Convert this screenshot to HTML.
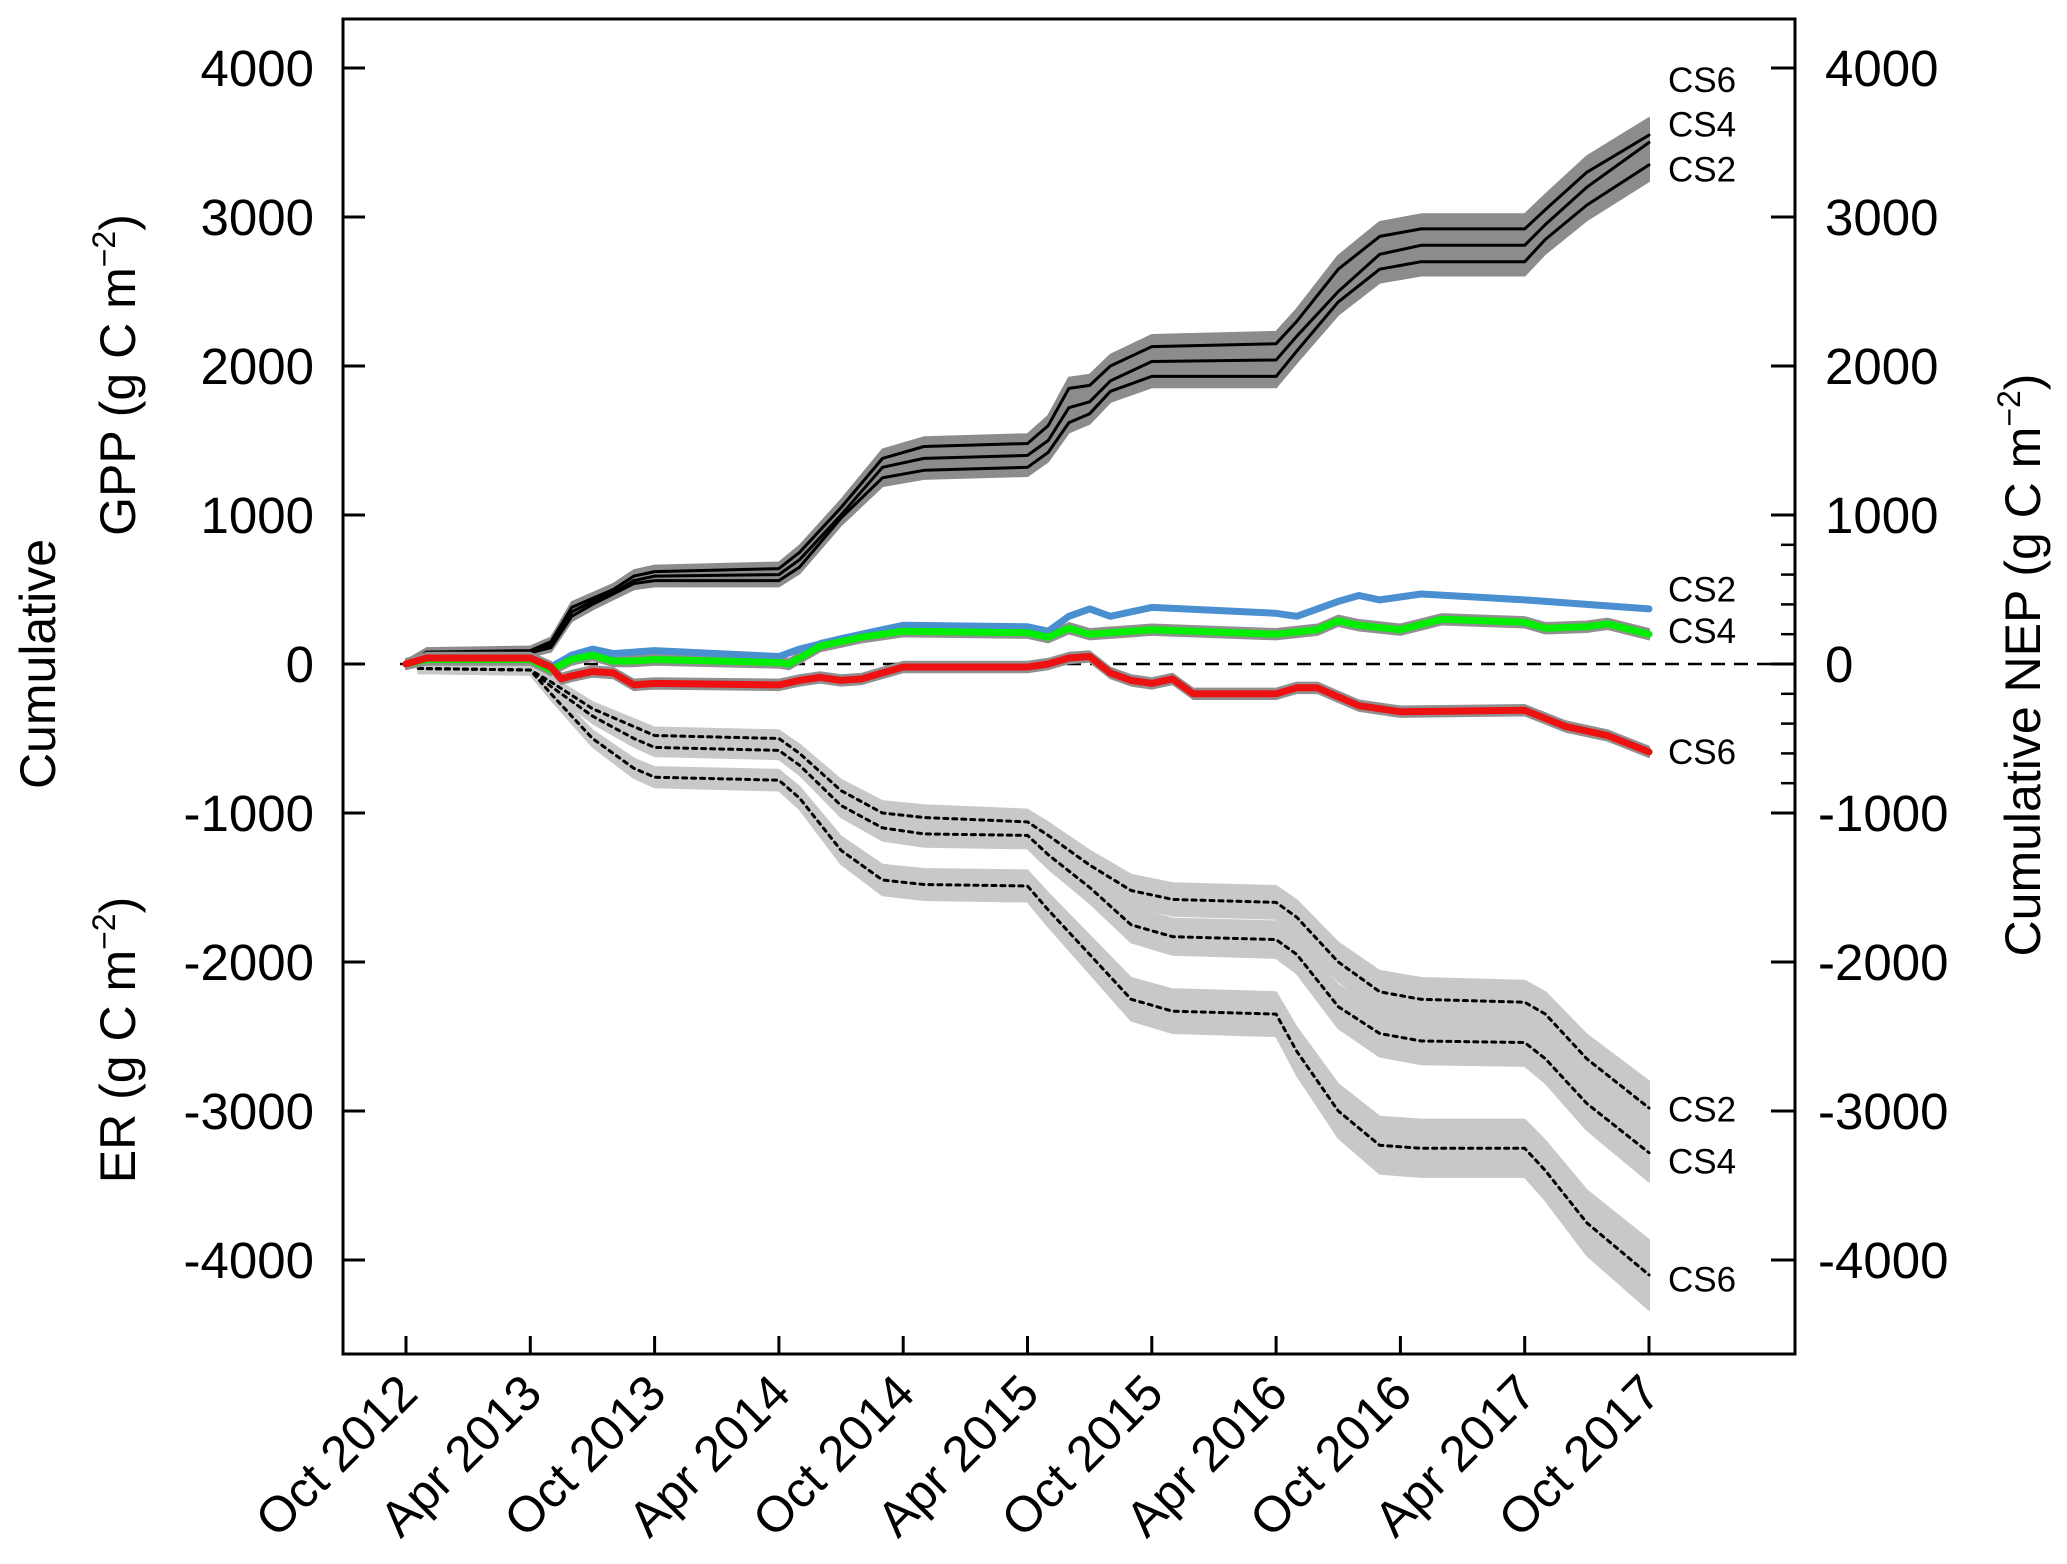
<!DOCTYPE html>
<html><head><meta charset="utf-8"><style>
body{margin:0;background:#fff}
svg{display:block;font-family:"Liberation Sans",sans-serif}
</style></head><body>
<svg id="c" width="2067" height="1564" viewBox="0 0 2067 1564" xmlns="http://www.w3.org/2000/svg"></svg>
<script>
const xTickLabels=["Oct 2012","Apr 2013","Oct 2013","Apr 2014","Oct 2014","Apr 2015","Oct 2015","Apr 2016","Oct 2016","Apr 2017","Oct 2017"];
const yTicks=[4000,3000,2000,1000,0,-1000,-2000,-3000,-4000];
const nepMinorTicks=[800,600,400,200,-200,-400,-600,-800];
const gppCS6=[[0,0],[1,80],[6,90],[7,150],[8,380],[9,440],[10,500],[11,590],[12,620],[18,640],[19,750],[21,1050],[23,1380],[25,1460],[30,1480],[31,1600],[32,1850],[33,1870],[34,2000],[36,2130],[42,2150],[43,2300],[45,2650],[47,2870],[49,2920],[54,2920],[55,3050],[57,3300],[60,3550]];
const gppCS4=[[0,0],[1,75],[6,80],[7,130],[8,350],[9,420],[10,480],[11,560],[12,590],[18,600],[19,700],[21,1000],[23,1320],[25,1380],[30,1400],[31,1500],[32,1720],[33,1760],[34,1900],[36,2030],[42,2040],[43,2200],[45,2500],[47,2750],[49,2810],[54,2810],[55,2950],[57,3200],[60,3500]];
const gppCS2=[[0,0],[1,70],[6,75],[7,110],[8,320],[9,400],[10,470],[11,540],[12,560],[18,560],[19,650],[21,980],[23,1250],[25,1300],[30,1320],[31,1420],[32,1620],[33,1680],[34,1830],[36,1930],[42,1930],[43,2100],[45,2430],[47,2650],[49,2700],[54,2700],[55,2850],[57,3080],[60,3350]];
const erCS2=[[0.6,-30],[6,-40],[7,-120],[9,-300],[11,-420],[12,-480],[18,-500],[19,-600],[21,-850],[23,-1000],[25,-1030],[30,-1060],[31,-1150],[33,-1350],[35,-1520],[37,-1580],[42,-1600],[43,-1700],[45,-2000],[47,-2200],[49,-2250],[54,-2270],[55,-2350],[57,-2650],[60,-2980]];
const erCS4=[[0.6,-30],[6,-40],[7,-150],[9,-350],[11,-500],[12,-560],[18,-580],[19,-680],[21,-950],[23,-1100],[25,-1140],[30,-1150],[31,-1280],[33,-1500],[35,-1750],[37,-1830],[42,-1850],[43,-1950],[45,-2300],[47,-2480],[49,-2530],[54,-2540],[55,-2650],[57,-2950],[60,-3280]];
const erCS6=[[0.6,-30],[6,-40],[7,-200],[9,-500],[11,-700],[12,-760],[18,-780],[19,-900],[21,-1250],[23,-1450],[25,-1480],[30,-1490],[31,-1650],[33,-1950],[35,-2250],[37,-2330],[42,-2350],[43,-2600],[45,-3000],[47,-3230],[49,-3250],[54,-3250],[55,-3400],[57,-3750],[60,-4100]];
const nepCS2=[[0,0],[1,40],[6,40],[7,-20],[8,60],[9,100],[10,70],[11,80],[12,90],[18,50],[19,100],[21,170],[23,230],[24,260],[30,250],[31,220],[32,320],[33,370],[34,320],[36,380],[42,340],[43,320],[45,420],[46,460],[47,430],[49,470],[54,430],[57,400],[60,370]];
const nepCS4=[[0,0],[1,30],[6,30],[7,-40],[8,30],[9,60],[10,20],[11,20],[12,30],[18,10],[18.5,0],[20,120],[22,180],[24,220],[30,210],[31,180],[32,240],[33,200],[36,230],[42,200],[44,230],[45,290],[46,260],[48,230],[50,300],[54,280],[55,240],[57,250],[58,270],[60,200]];
const nepCS6=[[0,0],[1,40],[6,40],[7,-20],[7.5,-100],[8,-80],[9,-50],[10,-60],[11,-140],[12,-130],[18,-140],[19,-110],[20,-90],[21,-110],[22,-100],[24,-20],[30,-20],[31,0],[32,40],[33,50],[34,-60],[35,-110],[36,-130],[37,-100],[38,-200],[42,-200],[43,-160],[44,-160],[46,-280],[48,-320],[54,-310],[56,-420],[58,-480],[60,-590]];

const svg=document.getElementById('c');const NS='http://www.w3.org/2000/svg';
const L=343,R=1795,T=19,B=1354;
const xs=m=>406+m*(1243/60);
const ys=v=>664-v*0.149;
function el(tag,attrs,parent){const e=document.createElementNS(NS,tag);for(const k in attrs)e.setAttribute(k,attrs[k]);(parent||svg).appendChild(e);return e;}
function pts(arr){return arr.map(p=>xs(p[0]).toFixed(1)+','+ys(p[1]).toFixed(1)).join(' ');}
function band(arr,wf,fill,name){const up=arr.map(p=>xs(p[0]).toFixed(1)+','+ys(p[1]+wf(p[1])).toFixed(1));const lo=arr.slice().reverse().map(p=>xs(p[0]).toFixed(1)+','+ys(p[1]-wf(p[1])).toFixed(1));const e=el('polygon',{points:up.concat(lo).join(' '),fill:fill,'stroke':fill,'stroke-width':2,'stroke-linejoin':'round'});

}
function line(arr,stroke,w,dash,name){const e=el('polyline',{points:pts(arr),fill:'none',stroke:stroke,'stroke-width':w,'stroke-linejoin':'round','stroke-linecap':'round'});if(dash)e.setAttribute('stroke-dasharray',dash);

}
function text(x,y,s,size,anchor,name,extra){const e=el('text',Object.assign({x:x,y:y,'font-size':size,'text-anchor':anchor||'start',fill:'#000'},extra||{}));e.textContent=s;

return e;}

const erW=v=>30+0.05*Math.abs(v);
band(erCS6,erW,'#c8c8c8','er-cs6-band');band(erCS4,erW,'#c8c8c8','er-cs4-band');band(erCS2,erW,'#c8c8c8','er-cs2-band');
line(erCS2,'#000',3,'4,5','er-cs2-line');line(erCS4,'#000',3,'4,5','er-cs4-line');line(erCS6,'#000',3,'4,5','er-cs6-line');
const gW=v=>25+0.025*v;
band(gppCS6,gW,'#8c8c8c','gpp-cs6-band');band(gppCS4,gW,'#8c8c8c','gpp-cs4-band');band(gppCS2,gW,'#8c8c8c','gpp-cs2-band');
line(gppCS2,'#000',3,null,'gpp-cs2-line');line(gppCS4,'#000',3,null,'gpp-cs4-line');line(gppCS6,'#000',3,null,'gpp-cs6-line');
const z=el('line',{x1:400,x2:R,y1:ys(0),y2:ys(0),stroke:'#000','stroke-width':2.5,'stroke-dasharray':'14,9'});


const nW=v=>35;
band(nepCS4,nW,'#909090','nep-cs4-band');band(nepCS6,nW,'#909090','nep-cs6-band');
line(nepCS2,'#4a8fd0',7,null,'nep-cs2-line');line(nepCS4,'#00ee00',7,null,'nep-cs4-line');line(nepCS6,'#ee1111',7,null,'nep-cs6-line');

const f=el('rect',{x:L,y:T,width:R-L,height:B-T,fill:'none',stroke:'#000','stroke-width':3});


yTicks.forEach(v=>{const y=ys(v);
const a=el('line',{x1:L,x2:L+22,y1:y,y2:y,stroke:'#000','stroke-width':3});


const b=el('line',{x1:R-24,x2:R,y1:y,y2:y,stroke:'#000','stroke-width':3});


text(314,y+18,String(v),51,'end','left-y-tick-label');
text(v<0?1818:1825,y+18,String(v),51,'start','right-y-tick-label');});
nepMinorTicks.forEach(v=>{const y=ys(v);const a=el('line',{x1:R-14,x2:R,y1:y,y2:y,stroke:'#000','stroke-width':2.5});

});
xTickLabels.forEach((s,i)=>{const x=xs(i*6);
const t=el('line',{x1:x,x2:x,y1:B,y2:B-18,stroke:'#000','stroke-width':3});


text(x+14,1396,s,50,'end','x-tick-label',{transform:`rotate(-45 ${x+14} 1396)`});});
[['CS6',3920],['CS4',3620],['CS2',3320]].forEach(d=>text(1668,ys(d[1])+12,d[0],35,'start','gpp-series-label'));
[['CS2',500],['CS4',220],['CS6',-590]].forEach(d=>text(1668,ys(d[1])+12,d[0],35,'start','nep-series-label'));
[['CS2',-2990],['CS4',-3340],['CS6',-4130]].forEach(d=>text(1668,ys(d[1])+12,d[0],35,'start','er-series-label'));
function vt(x,y,name,parts){const e=el('text',{x:0,y:0,'font-size':50,'text-anchor':'middle',transform:`translate(${x} ${y}) rotate(-90)`});


parts.forEach(p=>{const s=el('tspan',p[1]?{'font-size':32,dy:-20}:{dy:p[2]||0},e);s.textContent=p[0];});}
vt(55,664,'left-title-cumulative',[['Cumulative']]);
vt(135,375,'gpp-axis-title',[['GPP (g C m'],['\u22122',1],[')',0,20]]);
vt(135,1040,'er-axis-title',[['ER (g C m'],['\u22122',1],[')',0,20]]);
vt(2040,665,'nep-axis-title',[['Cumulative NEP  (g C m'],['\u22122',1],[')',0,20]]);
</script>
</body></html>
